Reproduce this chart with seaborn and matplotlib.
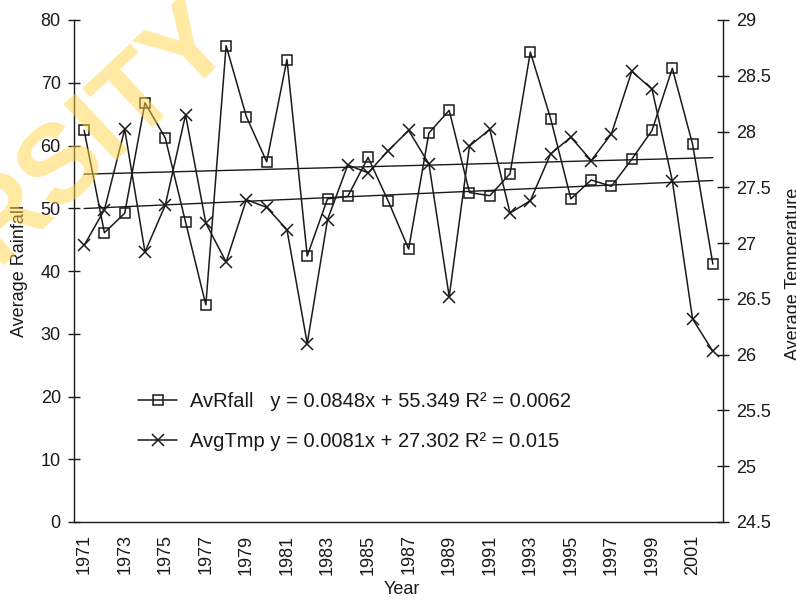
import numpy as np
import pandas as pd
import matplotlib
matplotlib.use("Agg")
import matplotlib.pyplot as plt
import seaborn as sns
from matplotlib.lines import Line2D
from matplotlib.ticker import FormatStrFormatter

# ---------------- data ----------------
years = list(range(1971, 2003))
rain = [62.4, 46.1, 49.2, 66.8, 61.2, 47.8, 34.6, 75.9, 64.6, 57.4, 73.7, 42.4,
        51.5, 51.9, 58.1, 51.1, 43.5, 62.0, 65.6, 52.5, 52.0, 55.5, 74.9, 64.3,
        51.5, 54.5, 53.5, 57.8, 62.4, 72.3, 60.2, 41.1]
temp = [26.98, 27.30, 28.02, 26.92, 27.34, 28.15, 27.18, 26.83, 27.39, 27.32,
        27.12, 26.10, 27.21, 27.70, 27.63, 27.83, 28.01, 27.71, 26.52, 27.87,
        28.02, 27.27, 27.38, 27.80, 27.95, 27.74, 27.98, 28.54, 28.38, 27.56,
        26.32, 26.03]
# trend lines as printed in the legend (x = 1..n)
rain_slope, rain_icpt, rain_r2 = 0.0848, 55.349, 0.0062
temp_slope, temp_icpt, temp_r2 = 0.0081, 27.302, 0.015
rain_ticks = [0, 10, 20, 30, 40, 50, 60, 70, 80]
temp_ticks = [24.5, 25, 25.5, 26, 26.5, 27, 27.5, 28, 28.5, 29]
label_years = years[::2]

# ---------------- style ----------------
sns.set_theme(style="white")
plt.rcParams["font.family"] = ["Liberation Sans", "DejaVu Sans"]
ink = "#1a1a1a"
W, H = 796, 600

fig = plt.figure(figsize=(W / 100, H / 100), dpi=100)
ax = fig.add_axes([74 / W, 78 / H, 649 / W, 502 / H])
ax.set_facecolor("none")
ax2 = ax.twinx()

df = pd.DataFrame({"Year": years, "AvRfall": rain, "AvgTmp": temp})

sns.lineplot(data=df, x="Year", y="AvRfall", ax=ax, color=ink, lw=1.1,
             marker="s", markersize=6.5, markerfacecolor="none",
             markeredgecolor=ink, markeredgewidth=1.1)
sns.lineplot(data=df, x="Year", y="AvgTmp", ax=ax2, color=ink, lw=1.1,
             marker="x", markersize=8.5, markeredgecolor=ink, markeredgewidth=1.1)

n = len(years)
xe = [years[0], years[-1]]
ax.plot(xe, [rain_slope * 1 + rain_icpt, rain_slope * n + rain_icpt], color=ink, lw=1.0)
ax2.plot(xe, [temp_slope * 1 + temp_icpt, temp_slope * n + temp_icpt], color=ink, lw=1.0)

# ---------------- axes ----------------
ax.set_xlim(years[0] - 0.5, years[-1] + 0.5)
ax.set_ylim(rain_ticks[0], rain_ticks[-1])
ax2.set_ylim(temp_ticks[0], temp_ticks[-1])
ax.set_yticks(rain_ticks)
ax2.set_yticks(temp_ticks)
ax2.yaxis.set_major_formatter(FormatStrFormatter("%g"))

ax.set_xticks(np.arange(years[0] - 0.5, years[-1] + 1, 1))
ax.set_xticklabels([])
ax.set_xticks(label_years, minor=True)
ax.set_xticklabels([str(y) for y in label_years], minor=True, rotation=90)

ax.tick_params(axis="x", which="major", direction="inout", length=8, width=1.0, color=ink)
ax.tick_params(axis="x", which="minor", length=0, pad=9, labelsize=13, labelcolor=ink)
ax.tick_params(axis="y", direction="inout", length=9, width=1.0, color=ink,
               pad=5, labelsize=13, labelcolor=ink, left=True)
ax2.tick_params(axis="y", direction="inout", length=9, width=1.0, color=ink,
                pad=5, labelsize=13, labelcolor=ink, right=True)

for a in (ax, ax2):
    a.set_xlabel("")
    a.set_ylabel("")
    a.spines["top"].set_visible(False)
    for s in ("left", "right", "bottom"):
        a.spines[s].set_color(ink)
        a.spines[s].set_linewidth(1.0)
ax.spines["right"].set_visible(False)
ax2.spines["left"].set_visible(False)
ax2.spines["bottom"].set_visible(False)
ax.grid(False)
ax2.grid(False)

# axis titles
fig.text(11 / W, 1 - 271 / H, "Average Rainfall", rotation=90, ha="left", va="center",
         fontsize=13, color=ink)
fig.text(785 / W, 1 - 274 / H, "Average Temperature", rotation=90, ha="left", va="center",
         fontsize=13, color=ink)
fig.text(402 / W, 1 - 590 / H, "Year", ha="center", va="center", fontsize=13, color=ink)

# legend
h1 = Line2D([], [], color=ink, lw=1.1, marker="s", markersize=6.5,
            markerfacecolor="none", markeredgecolor=ink, markeredgewidth=1.1)
h2 = Line2D([], [], color=ink, lw=1.1, marker="x", markersize=8.5,
            markeredgecolor=ink, markeredgewidth=1.1)
lab1 = f"AvRfall   y = {rain_slope}x + {rain_icpt} R\u00b2 = {rain_r2}"
lab2 = f"AvgTmp y = {temp_slope}x + {temp_icpt} R\u00b2 = {temp_r2}"
fig.legend([h1, h2], [lab1, lab2], loc="upper left",
           bbox_to_anchor=(138 / W, 1 - 392 / H), frameon=False, borderpad=0,
           borderaxespad=0, handlelength=1.95, handletextpad=0.62, labelspacing=1.05,
           prop={"size": 14.5}, labelcolor=ink)

# watermark
fig.text(97 / W, 1 - 132 / H, "RSITY", fontsize=80, fontweight="bold",
         color="#FFD347", alpha=0.5, rotation=43, rotation_mode="anchor",
         ha="center", va="center", zorder=10)

fig.savefig("out.png", dpi=100)
